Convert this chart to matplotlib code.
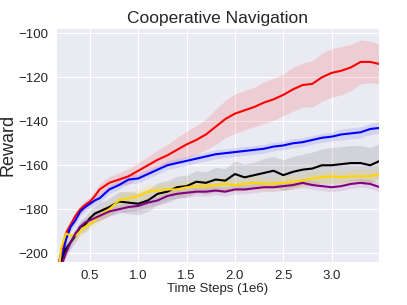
import matplotlib
matplotlib.use("Agg")
import matplotlib.pyplot as plt
import seaborn as sns

sns.set_style("darkgrid")
plt.rcParams["font.family"] = ["Liberation Sans", "DejaVu Sans"]

# ------------------------------------------------------------------
# datos (x en 1e6 pasos)
# ------------------------------------------------------------------
steps = [0.17, 0.2, 0.25, 0.3, 0.35, 0.4, 0.45, 0.5, 0.55, 0.6,
         0.7, 0.8, 0.9, 1.0, 1.1, 1.2, 1.3, 1.4, 1.5, 1.6,
         1.7, 1.8, 1.9, 2.0, 2.1, 2.2, 2.3, 2.4, 2.5, 2.6,
         2.7, 2.8, 2.9, 3.0, 3.1, 3.2, 3.3, 3.4, 3.5]

red_mean = [-206, -200, -191, -187, -183, -180, -178, -176.5, -174, -171,
            -168, -166.5, -165, -162.5, -160, -157.5, -155.5, -153, -150.5, -148.5,
            -146, -142.5, -139, -136.5, -135, -133.5, -131.5, -130, -128, -125.5,
            -123.5, -123, -120, -118, -117, -115.5, -113, -113, -114]
red_band = [2, 2, 2, 2, 2, 2, 2, 2, 2.5, 2.5,
            3, 3, 3.5, 3.5, 4, 4.5, 5, 5.5, 6, 6.5,
            7, 8, 8.5, 9, 9, 9, 9.5, 9.5, 9.5, 10,
            10, 10.5, 11, 11, 11, 10.5, 10, 9.5, 9]

blue_mean = [-212, -204, -194, -188, -185, -181, -179, -177.5, -176, -175,
             -171, -169, -166.5, -166, -164, -162, -160, -159, -158, -157,
             -156, -155, -154.5, -154, -153.5, -153, -152.5, -151.5, -151, -150,
             -149.5, -148.5, -147.5, -147, -146, -145.5, -145, -143.5, -143]
blue_band = [2] * 34 + [2.5] * 5

black_mean = [-212, -205, -198, -195, -192, -188, -187, -184, -182, -181,
              -179, -176.5, -177, -177.5, -176, -173, -172, -170, -169.5, -167.5,
              -168, -166.5, -167, -164, -165.5, -164.5, -163.5, -162.5, -164.5, -163,
              -162, -161.5, -160, -160, -159.5, -159, -159, -160, -158]
black_band = [3, 3, 3, 3, 3, 3, 3.5, 3.5, 3.5, 4,
              4, 4.5, 5, 5, 5, 5, 5, 5, 5, 5,
              5, 5.5, 5.5, 6, 6, 6, 6.5, 6.5, 7, 7,
              7, 7.5, 7.5, 8, 8, 8, 8, 8, 8]

gold_mean = [-212, -198, -191, -192, -192, -190, -188, -186.5, -185, -183,
             -180, -176, -175, -174, -172, -171.5, -171, -171, -170, -169.5,
             -169.5, -169, -168.5, -169, -168.5, -168, -168.5, -168.5, -168, -167.5,
             -167, -166, -165.5, -165, -165.5, -165, -165, -165, -164]
gold_band = [2.5] * 10 + [3] * 29

purple_mean = [-212, -206, -200, -195, -191, -188, -186, -185, -184, -183,
               -181, -180, -179, -178.5, -177, -176, -174, -173, -172.5, -172,
               -172, -171.5, -172, -171, -171, -170.5, -170, -170, -169.5, -169,
               -168, -169, -169.5, -170, -169.5, -168.5, -168, -168.5, -170]
purple_band = [2] * 39

series = [
    (red_mean, red_band, "red", 0.12),
    (blue_mean, blue_band, "blue", 0.10),
    (black_mean, black_band, "black", 0.10),
    (gold_mean, gold_band, "gold", 0.15),
    (purple_mean, purple_band, "purple", 0.10),
]

# ------------------------------------------------------------------
# figura
# ------------------------------------------------------------------
fig, ax = plt.subplots(figsize=(4.07, 3.05), dpi=100)
fig.subplots_adjust(left=0.138, right=0.931, top=0.908, bottom=0.141)

for mean, band, color, alpha in series:
    lo = [m - b for m, b in zip(mean, band)]
    hi = [m + b for m, b in zip(mean, band)]
    ax.fill_between(steps, lo, hi, color=color, alpha=alpha, lw=0)
    ax.plot(steps, mean, color=color, lw=1.5)

ax.set_xlim(0.15, 3.49)
ax.set_ylim(-204, -97.6)
ax.set_xticks([0.5, 1.0, 1.5, 2.0, 2.5, 3.0])
ax.set_yticks([-200, -180, -160, -140, -120, -100])
ax.tick_params(labelsize=9.5, pad=2)
ax.set_title("Cooperative Navigation", fontsize=12.5, pad=4)
ax.set_xlabel("Time Steps (1e6)", fontsize=9.5, labelpad=1)
ax.set_ylabel("Reward", fontsize=13)
ax.yaxis.set_label_coords(-0.122, 0.5)

fig.savefig("out.png", dpi=100)
